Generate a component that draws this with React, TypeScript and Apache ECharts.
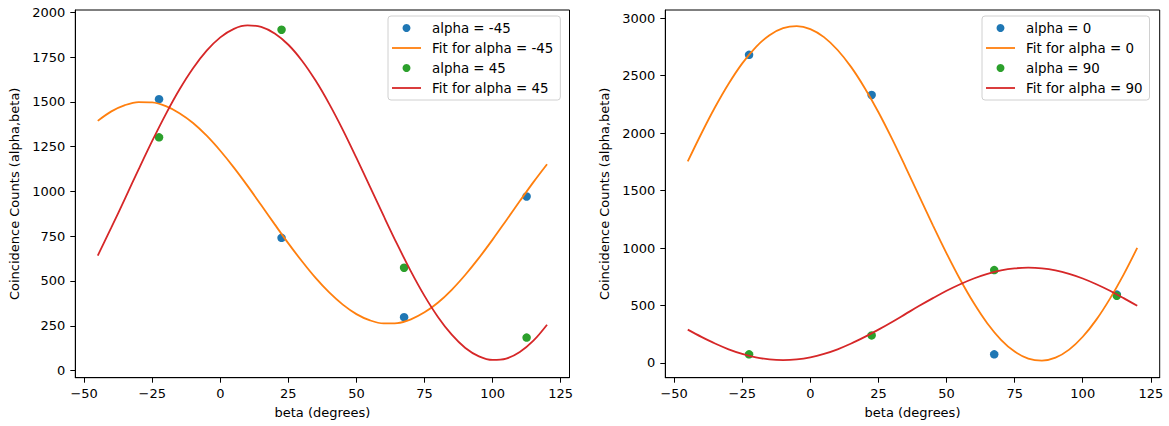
import React, { useEffect, useRef } from "react";
import * as echarts from "echarts";

// Measured data points
const betaData = [-22.5, 22.5, 67.5, 112.5];
const countsAlphaM45 = [1515, 741, 298, 972];
const countsAlpha45 = [1302, 1903, 574, 184];
const countsAlpha0 = [2680, 2331, 75, 595];
const countsAlpha90 = [75, 240, 808, 585];

// Fit curves at 5-degree steps
const betaFit = [
  -45, -40, -35, -30, -25, -20, -15, -10, -5, 0, 5, 10, 15, 20, 25, 30, 35,
  40, 45, 50, 55, 60, 65, 70, 75, 80, 85, 90, 95, 100, 105, 110, 115, 120,
];
const fitAlphaM45 = [
  1394, 1447, 1482, 1499, 1497, 1476, 1437, 1382, 1311, 1227, 1133, 1031, 924,
  816, 710, 610, 517, 436, 368, 315, 280, 263, 265, 286, 325, 380, 451, 535,
  629, 731, 838, 946, 1052, 1152,
];
const fitAlpha45 = [
  642, 799, 960, 1123, 1282, 1432, 1569, 1688, 1786, 1860, 1908, 1927, 1919,
  1882, 1819, 1730, 1619, 1489, 1344, 1187, 1026, 863, 704, 554, 417, 298, 200,
  126, 79, 59, 67, 104, 167, 256,
];
const fitAlpha0 = [
  1753, 1996, 2224, 2429, 2606, 2748, 2851, 2912, 2930, 2904, 2834, 2722, 2573,
  2390, 2181, 1949, 1702, 1450, 1197, 954, 726, 521, 344, 202, 99, 38, 20, 46,
  116, 228, 377, 560, 769, 1001,
];
const fitAlpha90 = [
  290, 227, 169, 119, 79, 49, 31, 25, 31, 49, 79, 119, 169, 227, 290, 357, 427,
  497, 564, 628, 685, 735, 775, 805, 823, 829, 823, 805, 775, 735, 685, 628,
  564, 497,
];

const xTicks = [-50, -25, 0, 25, 50, 75, 100, 125];
const yTicksLeft = [0, 250, 500, 750, 1000, 1250, 1500, 1750, 2000];
const yTicksRight = [0, 500, 1000, 1500, 2000, 2500, 3000];

const BLUE = "#1f77b4";
const ORANGE = "#ff7f0e";
const GREEN = "#2ca02c";
const RED = "#d62728";
const FONT = "DejaVu Sans";
const AXIS_FONT = 13;
const LEGEND_FONT = 13.4;
const LINE_ICON = "path://M0,0H29V1.8H0Z";

const pairs = (xs: number[], ys: number[]) => xs.map((x, i) => [x, ys[i]]);
const fmt = (v: number) => String(v).replace("-", "\u2212");

function xAxis(gridIndex: number) {
  return {
    type: "value",
    gridIndex,
    min: -53.25,
    max: 128.25,
    name: "beta (degrees)",
    nameLocation: "middle",
    nameGap: 28,
    nameTextStyle: { fontFamily: FONT, fontSize: AXIS_FONT, color: "#000" },
    axisLine: { show: true, onZero: false, lineStyle: { color: "#000", width: 1 } },
    axisTick: {
      show: true,
      length: 5,
      customValues: xTicks,
      lineStyle: { color: "#000" },
    },
    axisLabel: {
      customValues: xTicks,
      formatter: fmt,
      margin: 9,
      fontFamily: FONT,
      fontSize: AXIS_FONT,
      color: "#000",
    },
    splitLine: { show: false },
  };
}

function yAxis(gridIndex: number, min: number, max: number, ticks: number[]) {
  return {
    type: "value",
    gridIndex,
    min,
    max,
    name: "Coincidence Counts (alpha,beta)",
    nameLocation: "middle",
    nameGap: 54,
    nameTextStyle: { fontFamily: FONT, fontSize: AXIS_FONT, color: "#000" },
    axisLine: { show: true, onZero: false, lineStyle: { color: "#000", width: 1 } },
    axisTick: {
      show: true,
      length: 5,
      customValues: ticks,
      lineStyle: { color: "#000" },
    },
    axisLabel: {
      customValues: ticks,
      formatter: fmt,
      margin: 10,
      fontFamily: FONT,
      fontSize: AXIS_FONT,
      color: "#000",
    },
    splitLine: { show: false },
  };
}

function scatter(name: string, data: number[], color: string, idx: number) {
  return {
    type: "scatter",
    name,
    xAxisIndex: idx,
    yAxisIndex: idx,
    data: pairs(betaData, data),
    symbol: "circle",
    symbolSize: 8.5,
    itemStyle: { color, opacity: 1 },
    z: 2,
  };
}

function fitLine(name: string, data: number[], color: string, idx: number) {
  return {
    type: "line",
    name,
    xAxisIndex: idx,
    yAxisIndex: idx,
    data: pairs(betaFit, data),
    smooth: 0.35,
    symbol: "none",
    lineStyle: { color, width: 1.8 },
    itemStyle: { color },
    z: 3,
  };
}

function legend(left: number, names: string[]) {
  return {
    show: true,
    left,
    top: 16,
    orient: "vertical",
    data: names.map((n, i) =>
      i % 2 === 1 ? { name: n, icon: LINE_ICON } : { name: n, icon: "circle" }
    ),
    itemWidth: 29,
    itemHeight: 8,
    itemGap: 6,
    symbolKeepAspect: true,
    padding: [5, 7, 5, 4],
    backgroundColor: "rgba(255,255,255,0.8)",
    borderColor: "#d0d0d0",
    borderWidth: 1,
    borderRadius: 3,
    textStyle: {
      fontFamily: FONT,
      fontSize: LEGEND_FONT,
      color: "#000",
      lineHeight: 14,
      padding: [0, 0, 0, 6],
    },
  };
}

export default function App() {
  const ref = useRef<HTMLDivElement>(null);
  useEffect(() => {
    if (!ref.current) return;
    const chart = echarts.init(ref.current, null, { renderer: "svg" });
    chart.setOption({
      animation: false,
      backgroundColor: "#fff",
      textStyle: { fontFamily: FONT },
      grid: [
        {
          left: 75.3,
          right: 599.5,
          top: 10,
          bottom: 48.3,
          show: true,
          borderColor: "#000",
          borderWidth: 1,
          backgroundColor: "transparent",
        },
        {
          left: 665.3,
          right: 9.3,
          top: 10,
          bottom: 48.3,
          show: true,
          borderColor: "#000",
          borderWidth: 1,
          backgroundColor: "transparent",
        },
      ],
      xAxis: [xAxis(0), xAxis(1)],
      yAxis: [
        yAxis(0, -40, 2013, yTicksLeft),
        yAxis(1, -128, 3070, yTicksRight),
      ],
      legend: [
        legend(388, [
          "alpha = -45",
          "Fit for alpha = -45",
          "alpha = 45",
          "Fit for alpha = 45",
        ]),
        legend(982, [
          "alpha = 0",
          "Fit for alpha = 0",
          "alpha = 90",
          "Fit for alpha = 90",
        ]),
      ],
      series: [
        scatter("alpha = -45", countsAlphaM45, BLUE, 0),
        fitLine("Fit for alpha = -45", fitAlphaM45, ORANGE, 0),
        scatter("alpha = 45", countsAlpha45, GREEN, 0),
        fitLine("Fit for alpha = 45", fitAlpha45, RED, 0),
        scatter("alpha = 0", countsAlpha0, BLUE, 1),
        fitLine("Fit for alpha = 0", fitAlpha0, ORANGE, 1),
        scatter("alpha = 90", countsAlpha90, GREEN, 1),
        fitLine("Fit for alpha = 90", fitAlpha90, RED, 1),
      ],
    });
    return () => chart.dispose();
  }, []);
  return (
    <div
      ref={ref}
      style={{ position: "fixed", left: 0, top: 0, width: 1169, height: 426 }}
    />
  );
}
